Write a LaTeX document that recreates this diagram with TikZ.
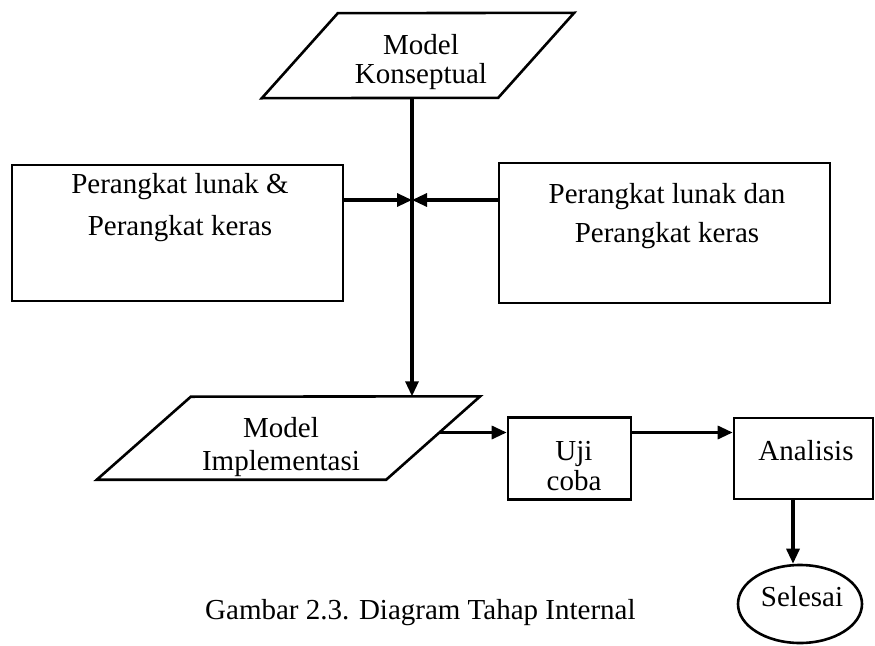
\documentclass[tikz,border=0pt]{standalone}
\usepackage{fontspec}
\setmainfont{Liberation Serif}
\usetikzlibrary{arrows.meta,calc,shapes.geometric}

\begin{document}
\begin{tikzpicture}[x=1pt,y=-1pt,
  box/.style={draw, line width=2.6pt, rectangle, inner sep=0pt},
  frame/.style={inner sep=0pt},
  slanted/.style={line width=2.6pt, line join=miter},
  conn/.style={line width=3.2pt, -{Triangle[length=15pt,width=13pt]}},
  txt/.style={inner sep=0pt, align=center, font=\fontsize{29}{#1}\selectfont},
  txt/.default=33
]
\useasboundingbox (0,0) rectangle (875,645);

% rectangles and the end ellipse
\node[box, minimum width=331pt, minimum height=136pt] (lbox) at (177.5,233) {};
\node[box, minimum width=331pt, minimum height=140pt] (rbox) at (664.5,233) {};
\node[box, minimum width=123pt, minimum height=82pt] (uji) at (569.5,458.5) {};
\node[box, minimum width=139pt, minimum height=81pt] (ana) at (803.5,458.5) {};
\node[draw, ellipse, line width=2.6pt, inner sep=0pt,
      minimum width=124pt, minimum height=78pt] (sel) at (800,604) {};

% parallelograms: an invisible frame node, the outline drawn from its corners
\node[frame, minimum width=312pt, minimum height=85pt] (mk) at (418,55.5) {};
\draw[slanted] (mk.south west) -- ++(76,-85) -- (mk.north east) -- ++(-76,85) -- cycle;

\node[frame, minimum width=383pt, minimum height=83pt] (mi) at (288.5,438) {};
\coordinate (mi-tr) at (mi.north east);
\coordinate (mi-br) at ($(mi.south east)+(-94,0)$);
\draw[slanted] (mi.south west) -- ++(94,-83) -- (mi-tr) -- (mi-br) -- cycle;
\coordinate (mi-out) at ($(mi-tr)!0.434!(mi-br)$);

% texts
\node[txt=29, anchor=base] (mk-t) at (421,83) {Model\\Konseptual};
\node[txt=42, anchor=base] (lbox-t) at (180,235) {Perangkat lunak \&\\Perangkat keras};
\node[txt=39, anchor=base] (rbox-t) at (667,242) {Perangkat lunak dan\\Perangkat keras};
\node[txt=33, anchor=base] (mi-t) at (281,470) {Model\\Implementasi};
\node[txt=30, anchor=base] (uji-t) at (574,490) {Uji\\coba};
\node[txt, anchor=base] (ana-t) at (806,460) {Analisis};
\node[txt, anchor=base] (sel-t) at (802,606) {Selesai};
\node[txt, anchor=base west] (cap) at (205,619) {Gambar 2.3. Diagram Tahap Internal};

% connectors
\coordinate (trunk) at (412,0);
\coordinate (joint) at (412,200);
\coordinate (down) at (793,0);
\draw[conn] (trunk |- mk.south) -- (trunk |- mi.north);
\draw[conn] (joint -| lbox.east) -- (joint);
\draw[conn] (joint -| rbox.west) -- (joint);
\draw[conn] (mi-out) -- (mi-out -| uji.west);
\draw[conn] (mi-out -| uji.east) -- (mi-out -| ana.west);
\draw[conn] (down |- ana.south) -- (down |- sel.north);
\end{tikzpicture}
\end{document}
